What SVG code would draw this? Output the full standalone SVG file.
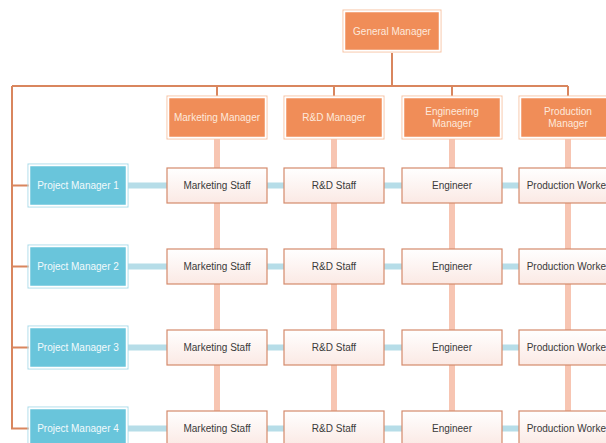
<svg xmlns="http://www.w3.org/2000/svg" width="606" height="443" viewBox="0 0 606 443">
  <defs>
    <linearGradient id="staffFill" x1="0" y1="0" x2="0" y2="1">
      <stop offset="0" stop-color="#ffffff"/>
      <stop offset="1" stop-color="#fbe9e4"/>
    </linearGradient>
    <style>
      text { font-family: "Liberation Sans", Arial, sans-serif; font-size: 10px; text-anchor: middle; dominant-baseline: central; }
      .mgr rect.outer { fill: none; stroke: #f7c3a3; stroke-width: 1; }
      .mgr rect.body { fill: #f08d58; stroke: #ffffff; stroke-width: 1.5; }
      .mgr text { fill: #fde9dc; }
      .pm rect.outer { fill: none; stroke: #a9dcea; stroke-width: 1; }
      .pm rect.body { fill: #69c5db; stroke: #ffffff; stroke-width: 1.5; }
      .pm text { fill: #f2fafc; }
      .staff rect { fill: url(#staffFill); stroke: #d48a6c; stroke-width: 1.2; }
      .staff text { fill: #3a3a3a; }
      .tree { fill: none; stroke: #d9865e; stroke-width: 2; }
      .col { stroke: #f7c5b2; stroke-width: 6; }
      .row { stroke: #b6dde8; stroke-width: 6; }
    </style>
  </defs>

  <!-- connectors -->
  <g id="connectors">
    <!-- department columns -->
    <line class="col" x1="217" y1="139" x2="217" y2="443"/>
    <line class="col" x1="334" y1="139" x2="334" y2="443"/>
    <line class="col" x1="452" y1="139" x2="452" y2="443"/>
    <line class="col" x1="568" y1="139" x2="568" y2="443"/>
    <!-- project rows -->
    <line class="row" x1="128" y1="185.5" x2="606" y2="185.5"/>
    <line class="row" x1="128" y1="266.5" x2="606" y2="266.5"/>
    <line class="row" x1="128" y1="347.5" x2="606" y2="347.5"/>
    <line class="row" x1="128" y1="428.5" x2="606" y2="428.5"/>
    <!-- reporting tree -->
    <path class="tree" d="M392 53 V86 M12 86 H568 M217 86 V96 M334 86 V96 M452 86 V96 M568 86 V96 M12 86 V428.5 H29 M12 185.5 H29 M12 266.5 H29 M12 347.5 H29"/>
  </g>

  <!-- general manager -->
  <g id="general-manager" class="mgr">
    <rect class="outer" x="343" y="10" width="98" height="42"/>
    <rect class="body" x="344.5" y="11.5" width="95" height="39"/>
    <text x="392" y="31">General Manager</text>
  </g>

  <!-- department managers -->
  <g id="marketing-manager" class="mgr">
    <rect class="outer" x="167" y="96" width="100" height="43"/>
    <rect class="body" x="168.5" y="97.5" width="97" height="40"/>
    <text x="217" y="117.5">Marketing Manager</text>
  </g>
  <g id="rd-manager" class="mgr">
    <rect class="outer" x="284" y="96" width="100" height="43"/>
    <rect class="body" x="285.5" y="97.5" width="97" height="40"/>
    <text x="334" y="117.5">R&amp;D Manager</text>
  </g>
  <g id="engineering-manager" class="mgr">
    <rect class="outer" x="402" y="96" width="100" height="43"/>
    <rect class="body" x="403.5" y="97.5" width="97" height="40"/>
    <text x="452" y="111.5">Engineering</text>
    <text x="452" y="123.5">Manager</text>
  </g>
  <g id="production-manager" class="mgr">
    <rect class="outer" x="519" y="96" width="100" height="43"/>
    <rect class="body" x="520.5" y="97.5" width="97" height="40"/>
    <text x="568" y="111.5">Production</text>
    <text x="568" y="123.5">Manager</text>
  </g>

  <!-- project managers -->
  <g id="project-manager-1" class="pm">
    <rect class="outer" x="28" y="164" width="100" height="43"/>
    <rect class="body" x="29.5" y="165.5" width="97" height="40"/>
    <text x="78" y="185.5">Project Manager 1</text>
  </g>
  <g id="project-manager-2" class="pm">
    <rect class="outer" x="28" y="245" width="100" height="43"/>
    <rect class="body" x="29.5" y="246.5" width="97" height="40"/>
    <text x="78" y="266.5">Project Manager 2</text>
  </g>
  <g id="project-manager-3" class="pm">
    <rect class="outer" x="28" y="326" width="100" height="43"/>
    <rect class="body" x="29.5" y="327.5" width="97" height="40"/>
    <text x="78" y="347.5">Project Manager 3</text>
  </g>
  <g id="project-manager-4" class="pm">
    <rect class="outer" x="28" y="407" width="100" height="43"/>
    <rect class="body" x="29.5" y="408.5" width="97" height="40"/>
    <text x="78" y="428.5">Project Manager 4</text>
  </g>

  <!-- row 1 staff -->
  <g id="marketing-staff-1" class="staff"><rect x="167" y="168" width="100" height="35"/><text x="217" y="185.5">Marketing Staff</text></g>
  <g id="rd-staff-1" class="staff"><rect x="284" y="168" width="100" height="35"/><text x="334" y="185.5">R&amp;D Staff</text></g>
  <g id="engineer-1" class="staff"><rect x="402" y="168" width="100" height="35"/><text x="452" y="185.5">Engineer</text></g>
  <g id="production-worker-1" class="staff"><rect x="519" y="168" width="100" height="35"/><text x="568" y="185.5">Production Worker</text></g>

  <!-- row 2 staff -->
  <g id="marketing-staff-2" class="staff"><rect x="167" y="249" width="100" height="35"/><text x="217" y="266.5">Marketing Staff</text></g>
  <g id="rd-staff-2" class="staff"><rect x="284" y="249" width="100" height="35"/><text x="334" y="266.5">R&amp;D Staff</text></g>
  <g id="engineer-2" class="staff"><rect x="402" y="249" width="100" height="35"/><text x="452" y="266.5">Engineer</text></g>
  <g id="production-worker-2" class="staff"><rect x="519" y="249" width="100" height="35"/><text x="568" y="266.5">Production Worker</text></g>

  <!-- row 3 staff -->
  <g id="marketing-staff-3" class="staff"><rect x="167" y="330" width="100" height="35"/><text x="217" y="347.5">Marketing Staff</text></g>
  <g id="rd-staff-3" class="staff"><rect x="284" y="330" width="100" height="35"/><text x="334" y="347.5">R&amp;D Staff</text></g>
  <g id="engineer-3" class="staff"><rect x="402" y="330" width="100" height="35"/><text x="452" y="347.5">Engineer</text></g>
  <g id="production-worker-3" class="staff"><rect x="519" y="330" width="100" height="35"/><text x="568" y="347.5">Production Worker</text></g>

  <!-- row 4 staff -->
  <g id="marketing-staff-4" class="staff"><rect x="167" y="411" width="100" height="35"/><text x="217" y="428.5">Marketing Staff</text></g>
  <g id="rd-staff-4" class="staff"><rect x="284" y="411" width="100" height="35"/><text x="334" y="428.5">R&amp;D Staff</text></g>
  <g id="engineer-4" class="staff"><rect x="402" y="411" width="100" height="35"/><text x="452" y="428.5">Engineer</text></g>
  <g id="production-worker-4" class="staff"><rect x="519" y="411" width="100" height="35"/><text x="568" y="428.5">Production Worker</text></g>
</svg>
